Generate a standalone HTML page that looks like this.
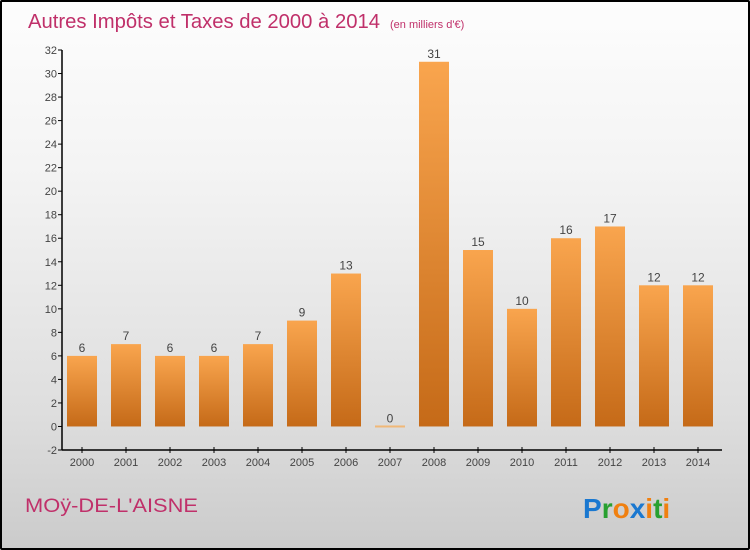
<!DOCTYPE html>
<html><head><meta charset="utf-8"><style>
html,body{margin:0;padding:0}
body{width:750px;height:550px;overflow:hidden;font-family:"Liberation Sans",sans-serif}
#wrap{position:absolute;left:0;top:0;width:746px;height:546px;border:2px solid #000;border-radius:2px;background:linear-gradient(#fdfdfd,#f4f4f4 30%,#dedede 75%,#cbcbcb)}
</style></head><body>
<div id="wrap">
<svg id="chart" width="750" height="550" style="position:absolute;left:-2px;top:-2px">
<defs><linearGradient id="bg" x1="0" y1="0" x2="0" y2="1"><stop offset="0" stop-color="#f9a54e"/><stop offset="1" stop-color="#c56a18"/></linearGradient></defs>
<text x="28" y="28" font-size="20" fill="#c0306a"><tspan textLength="352" lengthAdjust="spacingAndGlyphs">Autres Impôts et Taxes de 2000 à 2014</tspan><tspan dx="10" font-size="11">(en milliers d'€)</tspan></text>
<text x="25" y="512" font-size="19" fill="#c0306a" textLength="173" lengthAdjust="spacingAndGlyphs">MOÿ-DE-L'AISNE</text>
<text x="583" y="518" font-size="28" font-weight="bold"><tspan fill="#1a78d0">P</tspan><tspan fill="#28a030">r</tspan><tspan fill="#f08010">o</tspan><tspan fill="#1a78d0">x</tspan><tspan fill="#f08010">i</tspan><tspan fill="#28a030">t</tspan><tspan fill="#f08010">i</tspan></text>
<g id="plot"></g>
</svg>
</div>
<script>
const categories=["2000","2001","2002","2003","2004","2005","2006","2007","2008","2009","2010","2011","2012","2013","2014"];
const values=[6,7,6,6,7,9,13,0,31,15,10,16,17,12,12];
const yTicks=[-2,0,2,4,6,8,10,12,14,16,18,20,22,24,26,28,30,32];
const ns="http://www.w3.org/2000/svg";
const g=document.getElementById('plot');
const x0=62,x1=722,yTop=50,yBot=450,vMin=-2,vMax=32;
const y=v=>yBot-(v-vMin)/(vMax-vMin)*(yBot-yTop);
const step=44;
const xc=i=>82+step*i;
function el(t,a){const e=document.createElementNS(ns,t);for(const k in a)e.setAttribute(k,a[k]);g.appendChild(e);return e;}
yTicks.forEach(v=>{
 const t=el('line',{x1:x0-4,x2:x0,y1:y(v),y2:y(v),stroke:'#000'});
 
 
 const l=el('text',{x:x0-5,y:y(v)+4,'font-size':11,fill:'#444','text-anchor':'end'});
 l.textContent=v;
 
 
});
values.forEach((v,i)=>{
 const cx=xc(i),w=30;
 const top=y(Math.max(v,0)),h=Math.max(Math.abs(y(v)-y(0)),2);
 const r=el('rect',{x:cx-w/2,y:v>0?top:y(0)-1,width:w,height:h,fill:v>0?'url(#bg)':'#f0b878'});
 
 
 const vl=el('text',{x:cx,y:(v>0?top:y(0))-4,'font-size':12,fill:'#444','text-anchor':'middle'});
 vl.textContent=v;
 
 
 const t=el('line',{x1:cx,x2:cx,y1:yBot-3,y2:yBot+3,stroke:'#000'});
 
 
 const xl=el('text',{x:cx,y:yBot+16,'font-size':11,fill:'#444','text-anchor':'middle'});
 xl.textContent=categories[i];
 
 
});
const ya=el('line',{x1:x0,x2:x0,y1:yTop,y2:yBot,stroke:'#000','stroke-width':1.5});


const xa=el('line',{x1:x0,x2:x1,y1:yBot,y2:yBot,stroke:'#000','stroke-width':1.5});


</script>
</body></html>
